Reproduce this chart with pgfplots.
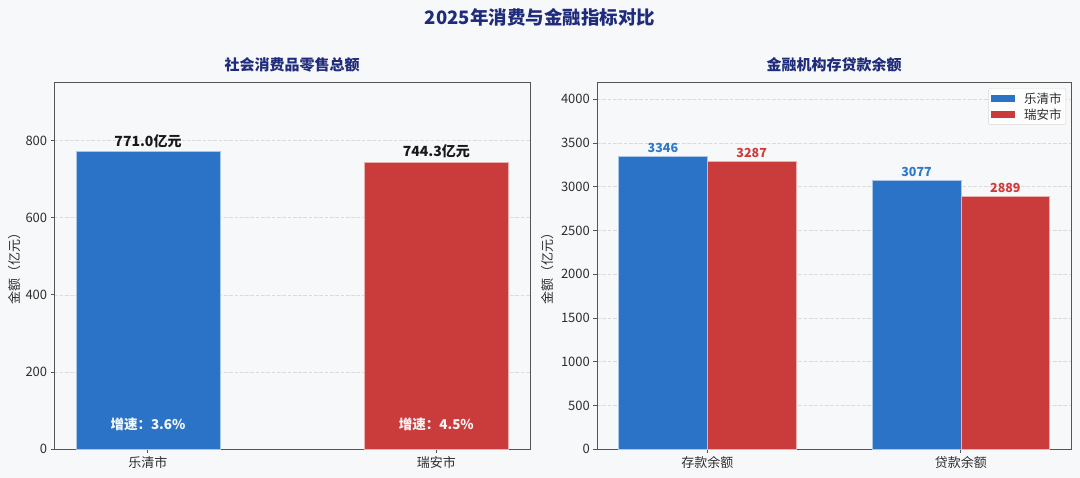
\documentclass[border=0pt]{standalone}
\usepackage{pgfplots}
\pgfplotsset{compat=1.18}
\usepackage{fontspec}
\setmainfont{Noto Sans CJK SC}

\definecolor{bg}{HTML}{F7F8FA}
\definecolor{barblue}{HTML}{2B73C6}
\definecolor{barred}{HTML}{CA3C3C}
\definecolor{lblblue}{HTML}{2E78CC}
\definecolor{lblred}{HTML}{D03A3A}
\definecolor{navy}{HTML}{1F2B7B}
\definecolor{axisgray}{HTML}{555555}
\definecolor{ticktext}{HTML}{2E2E2E}

\newcommand\tickfont{\fontsize{13}{15}\selectfont}

\pgfplotsset{
  /pgf/number format/assume math mode=true,
  /pgf/number format/1000 sep={},
  panel/.style={
    scale only axis, anchor=south west,
    height=366.6pt,
    ybar, ymin=0,
    axis background/.style={fill=bg},
    axis line style={axisgray, line width=1pt},
    tick style={axisgray, line width=1pt},
    major tick length=3.6pt, tick align=outside,
    xtick pos=bottom, ytick pos=left,
    ymajorgrids,
    major grid style={dash pattern=on 3.7pt off 1.6pt, gray!28, line width=0.7pt},
    ticklabel style={font=\tickfont, text=ticktext},
    scaled y ticks=false,
    xtick={0,1},
    title style={font=\fontsize{15}{17}\selectfont\bfseries, text=navy,
      at={(0.5,1)}, anchor=center, yshift=12pt, inner sep=0pt},
    ylabel style={font=\tickfont, text=ticktext, anchor=center, inner sep=0pt},
    ylabel={金额（亿元）},
  },
}

\begin{document}
\begin{tikzpicture}
\fill[bg] (0pt,0pt) rectangle (1080pt,-478pt);
\node[font=\fontsize{18.5}{21}\selectfont\bfseries, text=navy, inner sep=0pt]
  at (540pt,-17pt) {2025年消费与金融指标对比};

% left: retail sales
\begin{axis}[panel,
  at={(54.3pt,-449.3pt)}, width=475.7pt,
  xmin=-0.325, xmax=1.325, ymax=950,
  ytick={0,200,...,800},
  xticklabels={乐清市,瑞安市},
  title={社会消费品零售总额},
  ylabel style={at={(axis description cs:-0.0826,0.5)}},
  bar width=0.5,
  point meta=y,
  nodes near coords={\pgfmathprintnumber[fixed,fixed zerofill,precision=1]{\pgfplotspointmeta}亿元},
  nodes near coords style={font=\fontsize{14}{16}\selectfont\bfseries, text=black!90,
    anchor=base, inner sep=0pt, yshift=5.5pt},
]
\addplot[fill=barblue, draw=white!60!barblue, line width=0.6pt, bar shift=0] coordinates {(0,771.0)};
\addplot[fill=barred, draw=white!60!barred, line width=0.6pt, bar shift=0] coordinates {(1,744.3)};
\node[font=\fontsize{13.5}{15}\selectfont\bfseries, text=white!95!barblue] at (axis cs:0,65) {增速：3.6\%};
\node[font=\fontsize{13.5}{15}\selectfont\bfseries, text=white!95!barred] at (axis cs:1,65) {增速：4.5\%};
\end{axis}

% right: deposits and loans
\begin{axis}[panel,
  at={(597pt,-449.3pt)}, width=474.3pt,
  xmin=-0.435, xmax=1.435, ymax=4190,
  ytick={0,500,...,4000},
  xticklabels={存款余额,贷款余额},
  title={金融机构存贷款余额},
  ylabel style={at={(axis description cs:-0.1033,0.5)}},
  bar width=0.35,
  point meta=y,
  nodes near coords={\pgfmathprintnumber[fixed,precision=0,1000 sep={}]{\pgfplotspointmeta}},
  nodes near coords style={font=\fontsize{12.5}{14}\selectfont\bfseries,
    anchor=base, inner sep=0pt, yshift=3.8pt},
  legend style={at={(1,1)}, anchor=north east, xshift=-5.3pt, yshift=-5.6pt,
    draw=gray!30, fill=white!70!bg,
    rounded corners=2pt, font=\fontsize{12.5}{14}\selectfont, text=ticktext,
    nodes={inner sep=2pt}, inner xsep=2.3pt, inner ysep=2pt, row sep=0pt},
  legend cell align=left,
  legend image code/.code={\path[#1, draw=none, sharp corners] (0pt,-3.7pt) rectangle (24pt,3.7pt);
    \path (0pt,0pt) (30.7pt,0pt);},
]
\addplot[fill=barblue, draw=white!60!barblue, line width=0.6pt, bar shift=-0.175,
  every node near coord/.append style={text=lblblue}] coordinates {(0,3346) (1,3077)};
\addplot[fill=barred, draw=white!60!barred, line width=0.6pt, bar shift=0.175,
  every node near coord/.append style={text=lblred}] coordinates {(0,3287) (1,2889)};
\legend{乐清市,瑞安市}
\end{axis}
\end{tikzpicture}
\end{document}
